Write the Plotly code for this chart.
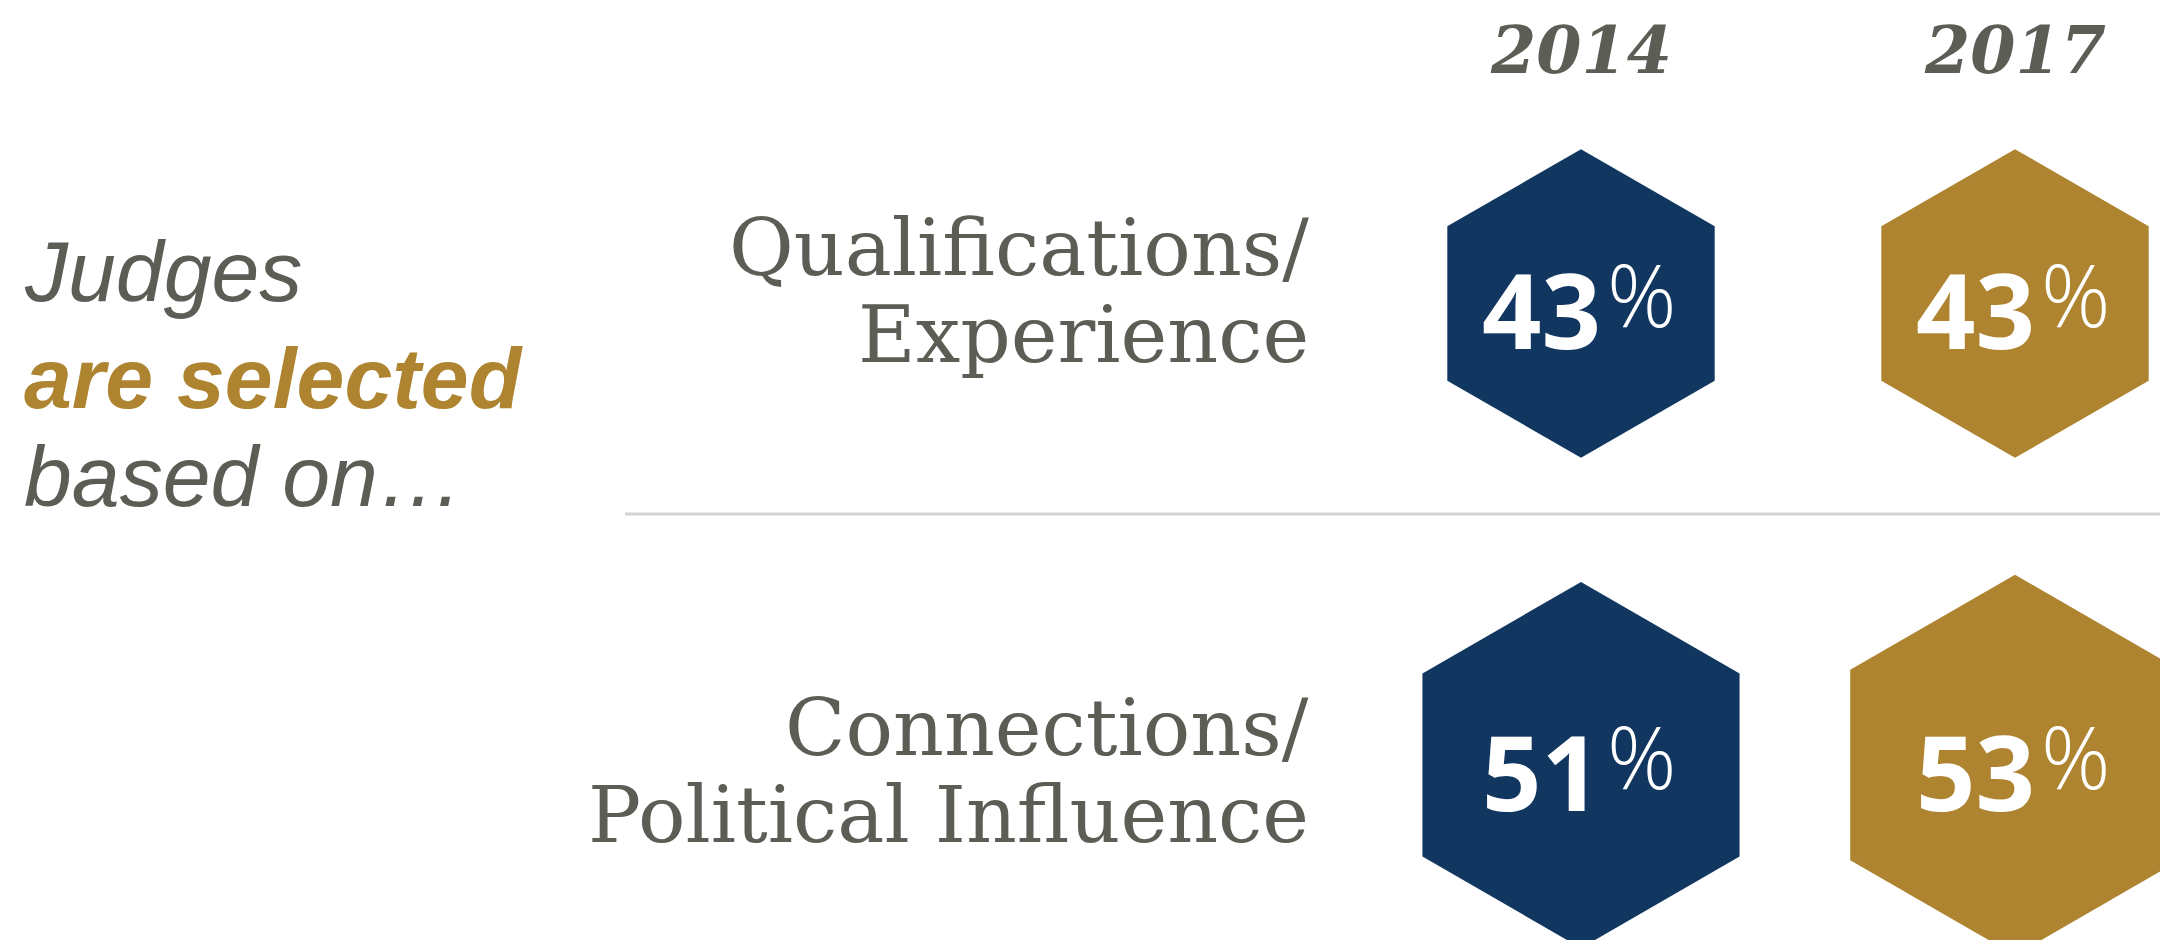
import math
import plotly.graph_objects as go

# ---------------- data ----------------
years = ["2014", "2017"]
categories = ["Qualifications/|Experience", "Connections/|Political Influence"]
values_2014 = [43, 51]
values_2017 = [43, 53]
intro_lines = ["Judges", "are selected", "based on…"]

# ---------------- layout constants ----------------
W, H = 2168, 948
BODY = 8                      # default page margin around the plot div
COL_X = [1581, 2015]          # column centres (px)
ROW_Y = [303.5, 765]          # row centres (px)
PX_PER_PCT = 3.59             # hexagon circumradius per percentage point
LABEL_RIGHT = 1311
LABEL_BASE = [275, 755]
LABEL_GAP = 87
INTRO_X = 22
INTRO_BASE = [301, 408, 506]
DIVIDER_Y = 514
DIVIDER_X0 = 625

BLUE = "#113660"
GOLD = "#ae8430"
GRAY = "#5c5d55"
RULE = "#d3d3d3"
col_colors = [BLUE, GOLD]

series = [values_2014, values_2017]

fig = go.Figure()

# hexagons
for ci, vals in enumerate(series):
    for ri, v in enumerate(vals):
        cx, cy = COL_X[ci], ROW_Y[ri]
        r = v * PX_PER_PCT
        xs, ys = [], []
        for k in range(7):
            a = math.radians(90 - 60 * k)
            xs.append(cx + r * math.cos(a))
            ys.append(cy - r * math.sin(a))
        fig.add_trace(go.Scatter(
            x=xs, y=ys, mode="lines", fill="toself",
            fillcolor=col_colors[ci], line=dict(width=0, color=col_colors[ci]),
            hoverinfo="skip", showlegend=False))

annotations = []

# percentage labels
for ci, vals in enumerate(series):
    for ri, v in enumerate(vals):
        cx, cy = COL_X[ci], ROW_Y[ri]
        annotations.append(dict(
            x=cx + 22, y=cy + 5, xref="x", yref="y", xanchor="right", yanchor="middle",
            text=f"<b>{v}</b>", showarrow=False,
            font=dict(family="Open Sans", size=104, color="white")))
        annotations.append(dict(
            x=cx + 24, y=cy - 10, xref="x", yref="y", xanchor="left", yanchor="middle",
            text="%", showarrow=False,
            font=dict(family="Open Sans", size=86, color="white", weight=300)))

# year headers
for ci, yr in enumerate(years):
    annotations.append(dict(
        x=COL_X[ci], y=50, xref="x", yref="y", xanchor="center", yanchor="middle",
        text=f"<b><i>{yr}</i></b>", showarrow=False,
        font=dict(family="DejaVu Serif", size=65, color=GRAY)))

# category labels
for ri, cat in enumerate(categories):
    for li, line in enumerate(cat.split("|")):
        base = LABEL_BASE[ri] + li * LABEL_GAP
        size = 79
        annotations.append(dict(
            x=LABEL_RIGHT, y=base - 0.346 * size, xref="x", yref="y",
            xanchor="right", yanchor="middle", text=line, showarrow=False,
            font=dict(family="DejaVu Serif", size=size, color=GRAY)))

# intro text
for li, line in enumerate(intro_lines):
    size = 86
    if li == 1:
        txt = f"<b><i>{line}</i></b>"
        color = GOLD
    else:
        txt = f"<i>{line}</i>"
        color = GRAY
    annotations.append(dict(
        x=INTRO_X, y=INTRO_BASE[li] - 0.3465 * size, xref="x", yref="y",
        xanchor="left", yanchor="middle", text=txt, showarrow=False,
        font=dict(family="Liberation Sans", size=size, color=color)))

fig.update_layout(
    width=W - 2 * BODY, height=H - 2 * BODY,
    margin=dict(l=0, r=0, t=0, b=0),
    paper_bgcolor="white", plot_bgcolor="white",
    xaxis=dict(range=[BODY, W - BODY], visible=False, fixedrange=True),
    yaxis=dict(range=[H - BODY, BODY], visible=False, fixedrange=True),
    annotations=annotations,
    shapes=[dict(type="line", xref="x", yref="y", x0=DIVIDER_X0, x1=W - BODY,
                 y0=DIVIDER_Y, y1=DIVIDER_Y, line=dict(color=RULE, width=3),
                 layer="below")],
    showlegend=False,
)

fig.write_html("out.html")
